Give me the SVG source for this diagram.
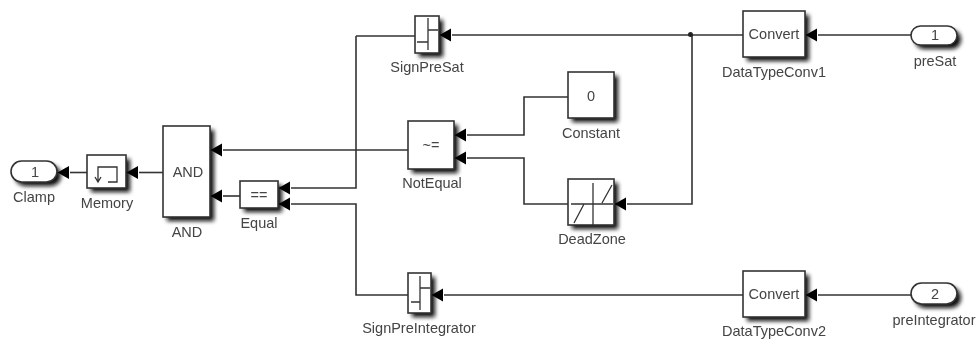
<svg xmlns="http://www.w3.org/2000/svg" width="978" height="340" viewBox="0 0 978 340">
<defs>
<filter id="sh" x="-40%" y="-40%" width="180%" height="180%"><feGaussianBlur stdDeviation="2"/></filter>
<filter id="soft" x="-5%" y="-20%" width="110%" height="140%"><feGaussianBlur stdDeviation="0.350"/></filter>
<marker id="a" markerUnits="userSpaceOnUse" markerWidth="14" markerHeight="14" refX="0" refY="7" orient="auto" overflow="visible"><path d="M1 .5L12.500 7L1 13.500Z" fill="#000"/></marker>
</defs>
<style>
.b{fill:#fff;stroke:#333;stroke-width:1.6}
.s{fill:#111;filter:url(#sh);transform:translate(1px,1px)}
.g{fill:none;stroke:#333;stroke-width:1.3}
.w{fill:none;stroke:#333;stroke-width:1.6}
.m{marker-end:url(#a)}
text{font-family:"Liberation Sans",Arial,sans-serif;font-size:14.500px;fill:#444;text-anchor:middle;filter:url(#soft)}
</style>
<rect width="978" height="340" fill="#fff"/>
<g id="Clamp"><rect class="s" x="14" y="164" width="46" height="21" rx="10"/><rect class="b" x="11" y="161" width="46" height="21" rx="10.500"/><text x="35" y="177">1</text><text x="34" y="202">Clamp</text></g>
<g id="Memory"><rect class="s" x="90" y="158" width="39" height="33"/><rect class="b" x="87" y="155" width="39" height="33"/><path class="g" d="M98 182V167H117V182H108M95 177L98 182L101 177"/><text x="107" y="208">Memory</text></g>
<g id="AND"><rect class="s" x="166" y="129" width="47" height="91"/><rect class="b" x="163" y="126" width="47" height="91"/><text x="188" y="177">AND</text><text x="187" y="237">AND</text></g>
<g id="Equal"><rect class="s" x="243" y="184" width="38" height="27"/><rect class="b" x="240" y="181" width="38" height="27"/><text x="259" y="200">==</text><text x="259" y="228">Equal</text></g>
<g id="SignPreSat"><rect class="s" x="418" y="19" width="24" height="37"/><rect class="b" x="415" y="16" width="24" height="37"/><path class="g" d="M428 18V50M428 30H438M417 42H428"/><text x="427" y="72">SignPreSat</text></g>
<g id="NotEqual"><rect class="s" x="411" y="124" width="46" height="48"/><rect class="b" x="408" y="121" width="46" height="48"/><text x="431" y="150">~=</text><text x="432" y="188">NotEqual</text></g>
<g id="Constant"><rect class="s" x="571" y="75" width="46" height="46"/><rect class="b" x="568" y="72" width="46" height="46"/><text x="591" y="101">0</text><text x="591" y="138">Constant</text></g>
<g id="DeadZone"><rect class="s" x="571" y="182" width="46" height="46"/><rect class="b" x="568" y="179" width="46" height="46"/><path class="g" d="M593 183V225M571 204H613M574 223L584 204M602 203L612 185"/><text x="592" y="244">DeadZone</text></g>
<g id="SignPreIntegrator"><rect class="s" x="411" y="276" width="23" height="40"/><rect class="b" x="408" y="273" width="23" height="40"/><path class="g" d="M420 276V310M420 288H430M411 302H420"/><text x="419" y="333">SignPreIntegrator</text></g>
<g id="DataTypeConv1"><rect class="s" x="746" y="14" width="62" height="46"/><rect class="b" x="743" y="11" width="62" height="46"/><text x="774" y="39">Convert</text><text x="774" y="77">DataTypeConv1</text></g>
<g id="DataTypeConv2"><rect class="s" x="746" y="274" width="62" height="46"/><rect class="b" x="743" y="271" width="62" height="46"/><text x="774" y="299">Convert</text><text x="774" y="336">DataTypeConv2</text></g>
<g id="preSat"><rect class="s" x="914" y="29" width="46" height="19" rx="9"/><rect class="b" x="911" y="26" width="46" height="19" rx="9.500"/><text x="935" y="40">1</text><text x="935" y="66">preSat</text></g>
<g id="preIntegrator"><rect class="s" x="914" y="286" width="46" height="21" rx="10"/><rect class="b" x="911" y="283" width="46" height="21" rx="10.500"/><text x="935" y="299">2</text><text x="934" y="325">preIntegrator</text></g>
<g id="connectors">
<path class="w m" d="M87 172.500H70"/>
<path class="w m" d="M163 172.500H139"/>
<path class="w m" d="M408 150H223"/>
<path class="w m" d="M240 196H223"/>
<path class="w m" d="M356 36V188H291"/>
<path class="w" d="M356 36H415"/>
<path class="w m" d="M408 295H356V204H291"/>
<path class="w m" d="M568 97H524V135H467"/>
<path class="w m" d="M568 204H524V158H467"/>
<path class="w m" d="M743 35H452"/>
<path class="w m" d="M692 35V204H627"/>
<path class="w m" d="M911 35H818"/>
<path class="w m" d="M743 295H444"/>
<path class="w m" d="M911 295H818"/>
<circle cx="690.500" cy="34.500" r="2.500" fill="#222"/>
</g>
</svg>
